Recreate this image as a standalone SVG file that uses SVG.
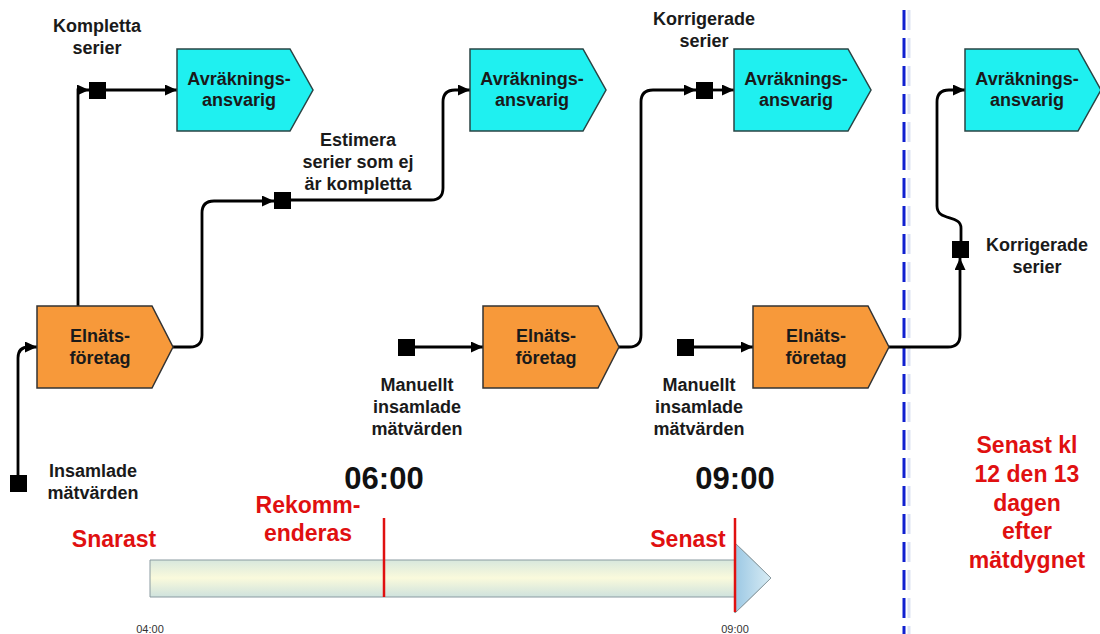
<svg xmlns="http://www.w3.org/2000/svg" width="1100" height="634" viewBox="0 0 1100 634">
<defs>
<marker id="ah" markerUnits="userSpaceOnUse" markerWidth="12" markerHeight="11" refX="12" refY="5.5" orient="auto"><path d="M0,0 L12,5.5 L0,11 z" fill="#000"/></marker>
<linearGradient id="tl" x1="0" y1="0" x2="0" y2="1"><stop offset="0" stop-color="#b8d6de"/><stop offset="0.5" stop-color="#fafadc"/><stop offset="1" stop-color="#aacede"/></linearGradient>
<linearGradient id="th" x1="0" y1="0" x2="1" y2="0"><stop offset="0" stop-color="#9cc8e4"/><stop offset="1" stop-color="#d8ecf4"/></linearGradient>
<style>
.cy{fill:#1ff0f0;stroke:#2a4444;stroke-width:1.5}
.or{fill:#f7993a;stroke:#333;stroke-width:1.5}
.t{font-family:"Liberation Sans",Arial,sans-serif;font-weight:bold;font-size:18px;fill:#1a1a1a;text-anchor:middle}
.r{font-family:"Liberation Sans",Arial,sans-serif;font-weight:bold;font-size:23px;fill:#e01010;text-anchor:middle}
.big{font-family:"Liberation Sans",Arial,sans-serif;font-weight:bold;font-size:31px;fill:#111;text-anchor:middle}
.sm{font-family:"Liberation Sans",Arial,sans-serif;font-size:11px;fill:#333;text-anchor:middle}
.c{fill:none;stroke:#000;stroke-width:2.8;marker-end:url(#ah)}
.sq{fill:#000}
</style>
</defs>
<rect width="1100" height="634" fill="#fff"/>

<line x1="909" y1="10" x2="909" y2="634" stroke="#dde3f2" stroke-width="3" stroke-dasharray="20 8"/>
<line x1="904" y1="10" x2="904" y2="634" stroke="#1020d0" stroke-width="3" stroke-dasharray="20 8"/>

<g id="timeline">
<path d="M150,560 H735 V543 L771,578 L735,613 V597 H150 Z" fill="url(#tl)" stroke="#8a9aa0" stroke-width="1"/>
<path d="M735,543 L771,578 L735,613 Z" fill="url(#th)" stroke="#8a9aa0" stroke-width="1"/>
<line x1="384" y1="518" x2="384" y2="597" stroke="#e01010" stroke-width="2.5"/>
<line x1="735" y1="518" x2="735" y2="612" stroke="#e01010" stroke-width="2.5"/>
<text class="r" x="114" y="547">Snarast</text>
<text class="r" x="308" y="513">Rekomm-</text>
<text class="r" x="308" y="541">enderas</text>
<text class="r" x="688" y="547">Senast</text>
<text class="big" x="384" y="489">06:00</text>
<text class="big" x="735" y="489">09:00</text>
<text class="sm" x="150" y="633">04:00</text>
<text class="sm" x="735" y="633">09:00</text>
</g>

<g id="connectors">
<path class="c" d="M18,475 V358 Q18,347 29,347 H37"/>
<path class="c" d="M78,306 V90 H89"/>
<path class="c" d="M106,90 H177"/>
<path class="c" d="M173,347 H190 Q202,347 202,335 V213 Q202,201 214,201 H274"/>
<path class="c" d="M290,200 H431 Q443,200 443,188 V102 Q443,90 455,90 H470"/>
<path class="c" d="M619,347 H629 Q641,347 641,335 V102 Q641,90 653,90 H696"/>
<path class="c" d="M713,90 H734"/>
<path class="c" d="M415,347 H483"/>
<path class="c" d="M693,347 H753"/>
<path class="c" d="M889,347 H948 Q960,347 960,335 V258"/>
<path class="c" d="M961,241 V228 C961,214 937,222 937,206 V102 Q937,90 949,90 H965"/>
<rect class="sq" x="10" y="475" width="17" height="17"/>
<rect class="sq" x="89" y="82" width="17" height="17"/>
<rect class="sq" x="274" y="192" width="17" height="17"/>
<rect class="sq" x="696" y="82" width="17" height="17"/>
<rect class="sq" x="398" y="339" width="17" height="17"/>
<rect class="sq" x="677" y="339" width="17" height="17"/>
<rect class="sq" x="952" y="241" width="17" height="17"/>
</g>

<g id="avr1"><path class="cy" d="M177,49 H290 L313,90 L290,131 H177 Z"/><text class="t" x="239" y="85">Avräknings-</text><text class="t" x="239" y="106">ansvarig</text></g>
<g id="avr2"><path class="cy" d="M470,49 H583 L606,90 L583,131 H470 Z"/><text class="t" x="532" y="85">Avräknings-</text><text class="t" x="532" y="106">ansvarig</text></g>
<g id="avr3"><path class="cy" d="M734,49 H848 L871,90 L848,131 H734 Z"/><text class="t" x="796" y="85">Avräknings-</text><text class="t" x="796" y="106">ansvarig</text></g>
<g id="avr4"><path class="cy" d="M965,49 H1078 L1101,90 L1078,131 H965 Z"/><text class="t" x="1027" y="85">Avräknings-</text><text class="t" x="1027" y="106">ansvarig</text></g>

<g id="eln1"><path class="or" d="M37,306 H152 L173,347 L152,388 H37 Z"/><text class="t" x="100" y="342">Elnäts-</text><text class="t" x="100" y="364">företag</text></g>
<g id="eln2"><path class="or" d="M483,306 H598 L619,347 L598,388 H483 Z"/><text class="t" x="546" y="342">Elnäts-</text><text class="t" x="546" y="364">företag</text></g>
<g id="eln3"><path class="or" d="M753,306 H868 L889,347 L868,388 H753 Z"/><text class="t" x="816" y="342">Elnäts-</text><text class="t" x="816" y="364">företag</text></g>

<g id="labels">
<text class="t" x="97" y="32">Kompletta</text><text class="t" x="97" y="54">serier</text>
<text class="t" x="358" y="146">Estimera</text><text class="t" x="358" y="168">serier som ej</text><text class="t" x="358" y="190">är kompletta</text>
<text class="t" x="704" y="25">Korrigerade</text><text class="t" x="704" y="47">serier</text>
<text class="t" x="1037" y="251">Korrigerade</text><text class="t" x="1037" y="273">serier</text>
<text class="t" x="93" y="477">Insamlade</text><text class="t" x="93" y="499">mätvärden</text>
<text class="t" x="417" y="391">Manuellt</text><text class="t" x="417" y="413">insamlade</text><text class="t" x="417" y="435">mätvärden</text>
<text class="t" x="699" y="391">Manuellt</text><text class="t" x="699" y="413">insamlade</text><text class="t" x="699" y="435">mätvärden</text>
<text class="r" x="1027" y="453">Senast kl</text><text class="r" x="1027" y="482">12 den 13</text><text class="r" x="1027" y="511">dagen</text><text class="r" x="1027" y="539">efter</text><text class="r" x="1027" y="568">mätdygnet</text>
</g>
</svg>
